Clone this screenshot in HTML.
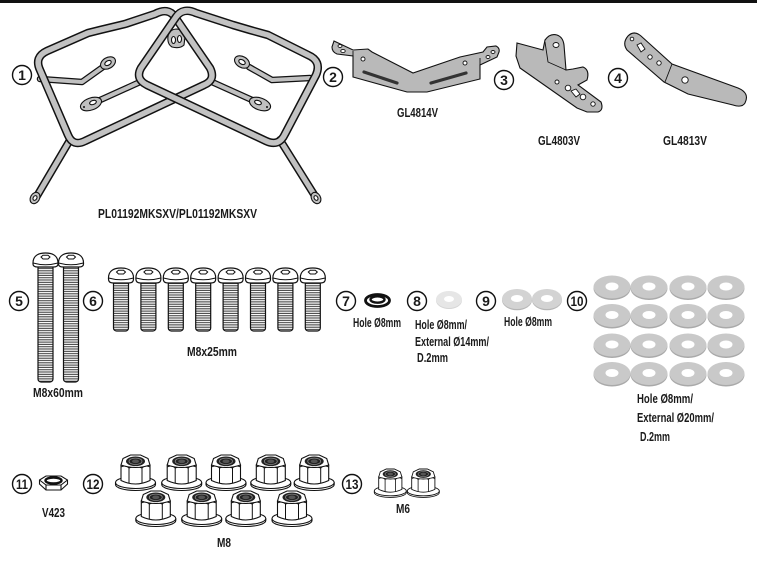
<!DOCTYPE html>
<html><head><meta charset="utf-8"><style>
html,body{margin:0;padding:0;background:#fff;}
svg{display:block;}
text{font-family:"Liberation Sans",sans-serif;font-weight:bold;fill:#1a1a1a;}
</style></head><body>
<svg width="757" height="584" viewBox="0 0 757 584" xmlns="http://www.w3.org/2000/svg">
<defs>
<pattern id="th" width="20" height="2.3" patternUnits="userSpaceOnUse"><rect width="20" height="2.3" fill="#fff"/><rect y="1.2" width="20" height="1" fill="#333"/></pattern>
<g id="sb">
<rect x="-7.5" y="13" width="15" height="50" rx="3" fill="url(#th)" stroke="#111" stroke-width="1.2"/>
<path d="M-12.5 10 C-12.5 2 -6 0 0 0 C6 0 12.5 2 12.5 10 L12.5 11 Q12.5 15 8 15 L-8 15 Q-12.5 15 -12.5 11 Z" fill="#fff" stroke="#111" stroke-width="1.2"/>
<path d="M-12.5 10 Q0 13.5 12.5 10" fill="none" stroke="#111" stroke-width="1"/>
<path d="M-4.5 4 L-2.5 2.3 L2.5 2.3 L4.5 4 L2.5 6 L-2.5 6 Z" fill="#fff" stroke="#111" stroke-width="1"/>
</g>
<g id="lb">
<rect x="-7.5" y="12" width="15" height="117" rx="3" fill="url(#th)" stroke="#111" stroke-width="1.2"/>
<path d="M-12.5 10 C-12.5 2 -6 0 0 0 C6 0 12.5 2 12.5 10 L12.5 11 Q12.5 14 8 14 L-8 14 Q-12.5 14 -12.5 11 Z" fill="#fff" stroke="#111" stroke-width="1.2"/>
<path d="M-12.5 10 Q0 13.5 12.5 10" fill="none" stroke="#111" stroke-width="1"/>
<path d="M-4.5 4 L-2.5 2.3 L2.5 2.3 L4.5 4 L2.5 6 L-2.5 6 Z" fill="#fff" stroke="#111" stroke-width="1"/>
</g>
<g id="nut">
<path d="M-20 27.5 L-20 29.5 A20 6 0 0 0 20 29.5 L20 27.5" fill="#fff" stroke="#111" stroke-width="1.1"/>
<ellipse cx="0" cy="27.5" rx="20" ry="6" fill="#fff" stroke="#111" stroke-width="1.1"/>
<path d="M-14.5 10 L-14.5 25.5 Q-7 29 0 29 Q7 29 14.5 25.5 L14.5 10 Z" fill="#fff" stroke="#111" stroke-width="1.1"/>
<path d="M-6.5 13 L-6.5 28.5 M6.5 13 L6.5 28.5" stroke="#111" stroke-width="1"/>
<path d="M-14.5 12 Q-10 9.5 -6.5 13 Q0 10 6.5 13 Q10 9.5 14.5 12" fill="none" stroke="#111" stroke-width="1"/>
<path d="M-14.5 10 L-12.5 3.5 L-5 0 L5 0 L12.5 3.5 L14.5 10 Q0 15 -14.5 10 Z" fill="#fff" stroke="#111" stroke-width="1.1"/>
<ellipse cx="0" cy="6.3" rx="9.5" ry="4.8" fill="#222"/>
<ellipse cx="0" cy="6.3" rx="6.5" ry="3.2" fill="none" stroke="#888" stroke-width="0.8"/>
<ellipse cx="0" cy="6.3" rx="3.5" ry="1.8" fill="#555"/>
</g>
<g id="w10"><ellipse cx="0" cy="1.5" rx="18.5" ry="11.5" fill="#a9a9a9"/><ellipse cx="0" cy="0" rx="18.5" ry="11.5" fill="#c9c9c9"/><ellipse cx="0" cy="-0.5" rx="6.5" ry="4" fill="#fff"/></g>
<g id="w9"><ellipse cx="0" cy="1.2" rx="15" ry="10" fill="#b5b5b5"/><ellipse cx="0" cy="0" rx="15" ry="10" fill="#d3d3d3"/><ellipse cx="0" cy="-0.5" rx="6" ry="3.5" fill="#fff"/></g>
</defs>

<rect x="0" y="0" width="757" height="3" fill="#111"/>

<!-- ITEM 1 frames -->
<g fill="none" stroke-linecap="round" stroke-linejoin="round">
  <path d="M70 140 L37 196 M280 140 L315 196" stroke="#111" stroke-width="8"/>
  <path d="M70 140 L37 196 M280 140 L315 196" stroke="#c0c0c0" stroke-width="5"/>
  <path d="M40 79 L82 82 L103 67 M140 82 L98 101 M310 78 L272 80 L249 67 M212 82 L252 100" stroke="#111" stroke-width="6.5"/>
  <path d="M40 79 L82 82 L103 67 M140 82 L98 101 M310 78 L272 80 L249 67 M212 82 L252 100" stroke="#c0c0c0" stroke-width="4"/>
</g>
<g stroke="#111" stroke-width="1.1">
  <ellipse cx="35" cy="198" rx="4.5" ry="6" transform="rotate(30 35 198)" fill="#c0c0c0"/>
  <ellipse cx="35" cy="198" rx="1.8" ry="2.5" transform="rotate(30 35 198)" fill="#fff"/>
  <ellipse cx="316" cy="198" rx="4.5" ry="6" transform="rotate(-30 316 198)" fill="#c0c0c0"/>
  <ellipse cx="316" cy="198" rx="1.8" ry="2.5" transform="rotate(-30 316 198)" fill="#fff"/>
  <ellipse cx="108" cy="63" rx="8" ry="5.5" transform="rotate(-30 108 63)" fill="#c0c0c0"/>
  <ellipse cx="108" cy="63" rx="3.5" ry="2.2" transform="rotate(-30 108 63)" fill="#fff"/>
  <ellipse cx="242" cy="62" rx="8" ry="5.5" transform="rotate(30 242 62)" fill="#c0c0c0"/>
  <ellipse cx="242" cy="62" rx="3.5" ry="2.2" transform="rotate(30 242 62)" fill="#fff"/>
  <ellipse cx="91" cy="104" rx="11" ry="6" transform="rotate(-20 91 104)" fill="#c0c0c0"/>
  <ellipse cx="93" cy="102.5" rx="3.5" ry="2" transform="rotate(-20 93 102.5)" fill="#fff"/>
  <ellipse cx="260" cy="104" rx="11" ry="6" transform="rotate(20 260 104)" fill="#c0c0c0"/>
  <ellipse cx="258" cy="102.5" rx="3.5" ry="2" transform="rotate(20 258 102.5)" fill="#fff"/>
  <path d="M168 36 Q170 29 177 29 Q184 30 185 37 L184 45 Q180 49 172 47 Q167 44 168 36 Z" fill="#c0c0c0"/>
  <ellipse cx="173.5" cy="40" rx="2" ry="3.5" fill="#fff"/>
  <ellipse cx="179.5" cy="39" rx="2" ry="3.5" fill="#fff"/>
</g>
<g fill="#111"><circle cx="84" cy="107" r="1"/><circle cx="267" cy="107" r="1"/></g>
<g fill="none" stroke-linecap="round" stroke-linejoin="round">
  <path d="M40 70 Q34 57 47 51 L88 33 L100 30 L125 24 L155 14 Q168 7 175 17 L210 68 Q216 80 204 85 L85 141 Q73 147 68 135 Z" stroke="#111" stroke-width="8.5"/>
  <path d="M40 70 Q34 57 47 51 L88 33 L100 30 L125 24 L155 14 Q168 7 175 17 L210 68 Q216 80 204 85 L85 141 Q73 147 68 135 Z" stroke="#c2c2c2" stroke-width="5.5"/>
  <path d="M176 17 Q183 7 196 13 L233 25 L250 30 L268 35 L308 55 Q322 61 316 75 L285 134 Q279 147 266 141 L147 85 Q135 79 141 68 Z" stroke="#111" stroke-width="8.5"/>
  <path d="M176 17 Q183 7 196 13 L233 25 L250 30 L268 35 L308 55 Q322 61 316 75 L285 134 Q279 147 266 141 L147 85 Q135 79 141 68 Z" stroke="#c2c2c2" stroke-width="5.5"/>
</g>

<!-- ITEM 2 -->
<path d="M334 41 L353 50 L368 49 L372 52 L413 73 L460 57 L483 52 L487 47 L496 46 Q500 48 499 52 L497 57 L480 65 L480 79 L427 92 L407 92 L353 77 L353 56 L337 54 Q332 52 332 47 Z" fill="#b9b9b9" stroke="#111" stroke-width="1.1"/>
<path d="M353 51 L353 77 M480 58 L480 79" stroke="#111" stroke-width="0.9"/>
<path d="M364 72 L397 83 M431 83 L466 73" stroke="#333" stroke-width="3.2" stroke-linecap="round"/>
<g fill="#fff" stroke="#111" stroke-width="0.9">
<ellipse cx="340" cy="46" rx="2" ry="1.5"/><ellipse cx="343" cy="51" rx="2.2" ry="1.6"/>
<circle cx="363" cy="59" r="2"/><circle cx="465" cy="63" r="2"/>
<ellipse cx="488" cy="57" rx="2" ry="1.5"/><ellipse cx="493" cy="52" rx="2" ry="1.5"/>
</g>

<!-- ITEM 3 -->
<path d="M517 43 L543 50 L545 40 Q550 33 557 35 Q563 37 564 45 L566 70 L573 69 L583 67 Q590 70 587 80 L578 85 L601 102 Q604 110 598 112 L587 112 L577 108 L520 68 L516 56 Z" fill="#b9b9b9" stroke="#111" stroke-width="1.1"/>
<path d="M545 42 L548 62 L566 70" fill="none" stroke="#111" stroke-width="0.9"/>
<g fill="#fff" stroke="#111" stroke-width="0.9">
<ellipse cx="556" cy="45" rx="3" ry="2.5"/>
<circle cx="557" cy="82" r="2"/>
<circle cx="568" cy="88" r="2.8"/>
<path d="M571 91 L576 89 L580 94 L576 97 Z"/>
<circle cx="583" cy="97" r="2.8"/>
<circle cx="593" cy="104" r="2.2"/>
</g>

<!-- ITEM 4 -->
<path d="M628 36 Q634 30 641 36 L672 64 L738 88 Q750 93 745 103 Q742 108 733 105 L688 94 L664 82 L627 50 Q622 43 628 36 Z" fill="#b9b9b9" stroke="#111" stroke-width="1.1"/>
<path d="M672 64 L665 82" stroke="#111" stroke-width="0.9"/>
<g fill="#fff" stroke="#111" stroke-width="0.9">
<circle cx="632" cy="39" r="1.8"/>
<path d="M637 45 L641 43 L645 49 L641 52 Z"/>
<circle cx="650" cy="57" r="2.2"/>
<circle cx="659" cy="63" r="2.2"/>
<circle cx="685" cy="80" r="3.2"/>
</g>

<!-- bolts -->
<use href="#lb" transform="translate(45.5 253)"/>
<use href="#lb" transform="translate(71 253)"/>
<use href="#sb" transform="translate(121 268)"/>
<use href="#sb" transform="translate(148.4 268)"/>
<use href="#sb" transform="translate(175.8 268)"/>
<use href="#sb" transform="translate(203.2 268)"/>
<use href="#sb" transform="translate(230.6 268)"/>
<use href="#sb" transform="translate(258 268)"/>
<use href="#sb" transform="translate(285.4 268)"/>
<use href="#sb" transform="translate(312.8 268)"/>

<!-- item 7 lock washer -->
<ellipse cx="377.5" cy="300.5" rx="12" ry="6" fill="#fff" stroke="#111" stroke-width="2.8"/>
<ellipse cx="377.5" cy="299.5" rx="7" ry="3.2" fill="#fff" stroke="#111" stroke-width="2.4"/>

<!-- item 8 washer -->
<ellipse cx="449" cy="300.5" rx="13" ry="8.5" fill="#d4d4d4"/>
<ellipse cx="449" cy="299.5" rx="13" ry="8.5" fill="#e6e6e6"/>
<ellipse cx="449" cy="299" rx="5" ry="3" fill="#fff"/>

<!-- item 9 -->
<use href="#w9" transform="translate(517 299)"/>
<use href="#w9" transform="translate(547 299)"/>

<!-- item 10 -->
<use href="#w10" transform="translate(612 287)"/><use href="#w10" transform="translate(649 287)"/><use href="#w10" transform="translate(688 287)"/><use href="#w10" transform="translate(726 287)"/>
<use href="#w10" transform="translate(612 315.5)"/><use href="#w10" transform="translate(649 315.5)"/><use href="#w10" transform="translate(688 315.5)"/><use href="#w10" transform="translate(726 315.5)"/>
<use href="#w10" transform="translate(612 345)"/><use href="#w10" transform="translate(649 345)"/><use href="#w10" transform="translate(688 345)"/><use href="#w10" transform="translate(726 345)"/>
<use href="#w10" transform="translate(612 373.5)"/><use href="#w10" transform="translate(649 373.5)"/><use href="#w10" transform="translate(688 373.5)"/><use href="#w10" transform="translate(726 373.5)"/>

<!-- item 11 V423 -->
<g stroke="#111" stroke-width="1.1" fill="#fff">
<path d="M39.5 480 L46 476 L61 476 L67.5 480 L67.5 484 L61 490 L46 490 L39.5 484 Z"/>
<path d="M39.5 480 L46 485 L61 485 L67.5 480 M46 485 L46 490 M61 485 L61 490"/>
<ellipse cx="53.5" cy="480.5" rx="8" ry="3" stroke-width="2.4"/>
</g>

<!-- item 12 nuts -->
<use href="#nut" transform="translate(135.5 455)"/>
<use href="#nut" transform="translate(181.7 455)"/>
<use href="#nut" transform="translate(226 455)"/>
<use href="#nut" transform="translate(270.8 455)"/>
<use href="#nut" transform="translate(314.2 455)"/>
<use href="#nut" transform="translate(155.8 491)"/>
<use href="#nut" transform="translate(201.7 491)"/>
<use href="#nut" transform="translate(245.8 491)"/>
<use href="#nut" transform="translate(292 491)"/>

<!-- item 13 -->
<use href="#nut" transform="translate(390.3 469) scale(0.8)"/>
<use href="#nut" transform="translate(423.3 469) scale(0.8)"/>

<!-- number circles -->
<g fill="#fff" stroke="#111" stroke-width="1.4">
<circle cx="22" cy="75" r="9.5"/><circle cx="333" cy="77" r="9.5"/><circle cx="504" cy="80" r="9.5"/><circle cx="618" cy="78" r="9.5"/>
<circle cx="19" cy="301" r="9.5"/><circle cx="93" cy="301" r="9.5"/><circle cx="346" cy="301" r="9.5"/><circle cx="417" cy="301" r="9.5"/><circle cx="486" cy="301" r="9.5"/><circle cx="577" cy="301" r="9.5"/>
<circle cx="22" cy="484" r="9.5"/><circle cx="93" cy="484" r="9.5"/><circle cx="352" cy="484" r="9.5"/>
</g>
<g font-size="14" text-anchor="middle">
<text x="22" y="80">1</text><text x="333" y="82">2</text><text x="504" y="85">3</text><text x="618" y="83">4</text>
<text x="19" y="306">5</text><text x="93" y="306">6</text><text x="346" y="306">7</text><text x="417" y="306">8</text><text x="486" y="306">9</text>
<text x="577" y="306" textLength="13" lengthAdjust="spacingAndGlyphs">10</text>
<text x="22" y="489" textLength="12" lengthAdjust="spacingAndGlyphs">11</text>
<text x="93" y="489" textLength="13" lengthAdjust="spacingAndGlyphs">12</text>
<text x="352" y="489" textLength="13" lengthAdjust="spacingAndGlyphs">13</text>
</g>

<!-- labels -->
<g font-size="13">
<text x="98" y="218" textLength="159" lengthAdjust="spacingAndGlyphs">PL01192MKSXV/PL01192MKSXV</text>
<text x="397" y="117" textLength="41" lengthAdjust="spacingAndGlyphs">GL4814V</text>
<text x="538" y="145" textLength="42" lengthAdjust="spacingAndGlyphs">GL4803V</text>
<text x="663" y="145" textLength="44" lengthAdjust="spacingAndGlyphs">GL4813V</text>
<text x="33" y="397" textLength="50" lengthAdjust="spacingAndGlyphs">M8x60mm</text>
<text x="187" y="356" textLength="50" lengthAdjust="spacingAndGlyphs">M8x25mm</text>
<text x="353" y="327" textLength="48" lengthAdjust="spacingAndGlyphs">Hole Ø8mm</text>
<text x="415" y="329" textLength="52" lengthAdjust="spacingAndGlyphs">Hole Ø8mm/</text>
<text x="415" y="346" textLength="74" lengthAdjust="spacingAndGlyphs">External Ø14mm/</text>
<text x="417" y="362" textLength="31" lengthAdjust="spacingAndGlyphs">D.2mm</text>
<text x="504" y="326" textLength="48" lengthAdjust="spacingAndGlyphs">Hole Ø8mm</text>
<text x="637" y="403" textLength="56" lengthAdjust="spacingAndGlyphs">Hole Ø8mm/</text>
<text x="637" y="422" textLength="77" lengthAdjust="spacingAndGlyphs">External Ø20mm/</text>
<text x="640" y="441" textLength="30" lengthAdjust="spacingAndGlyphs">D.2mm</text>
<text x="42" y="517" textLength="23" lengthAdjust="spacingAndGlyphs">V423</text>
<text x="217" y="547" textLength="14" lengthAdjust="spacingAndGlyphs">M8</text>
<text x="396" y="513" textLength="14" lengthAdjust="spacingAndGlyphs">M6</text>
</g>
</svg>
</body></html>
